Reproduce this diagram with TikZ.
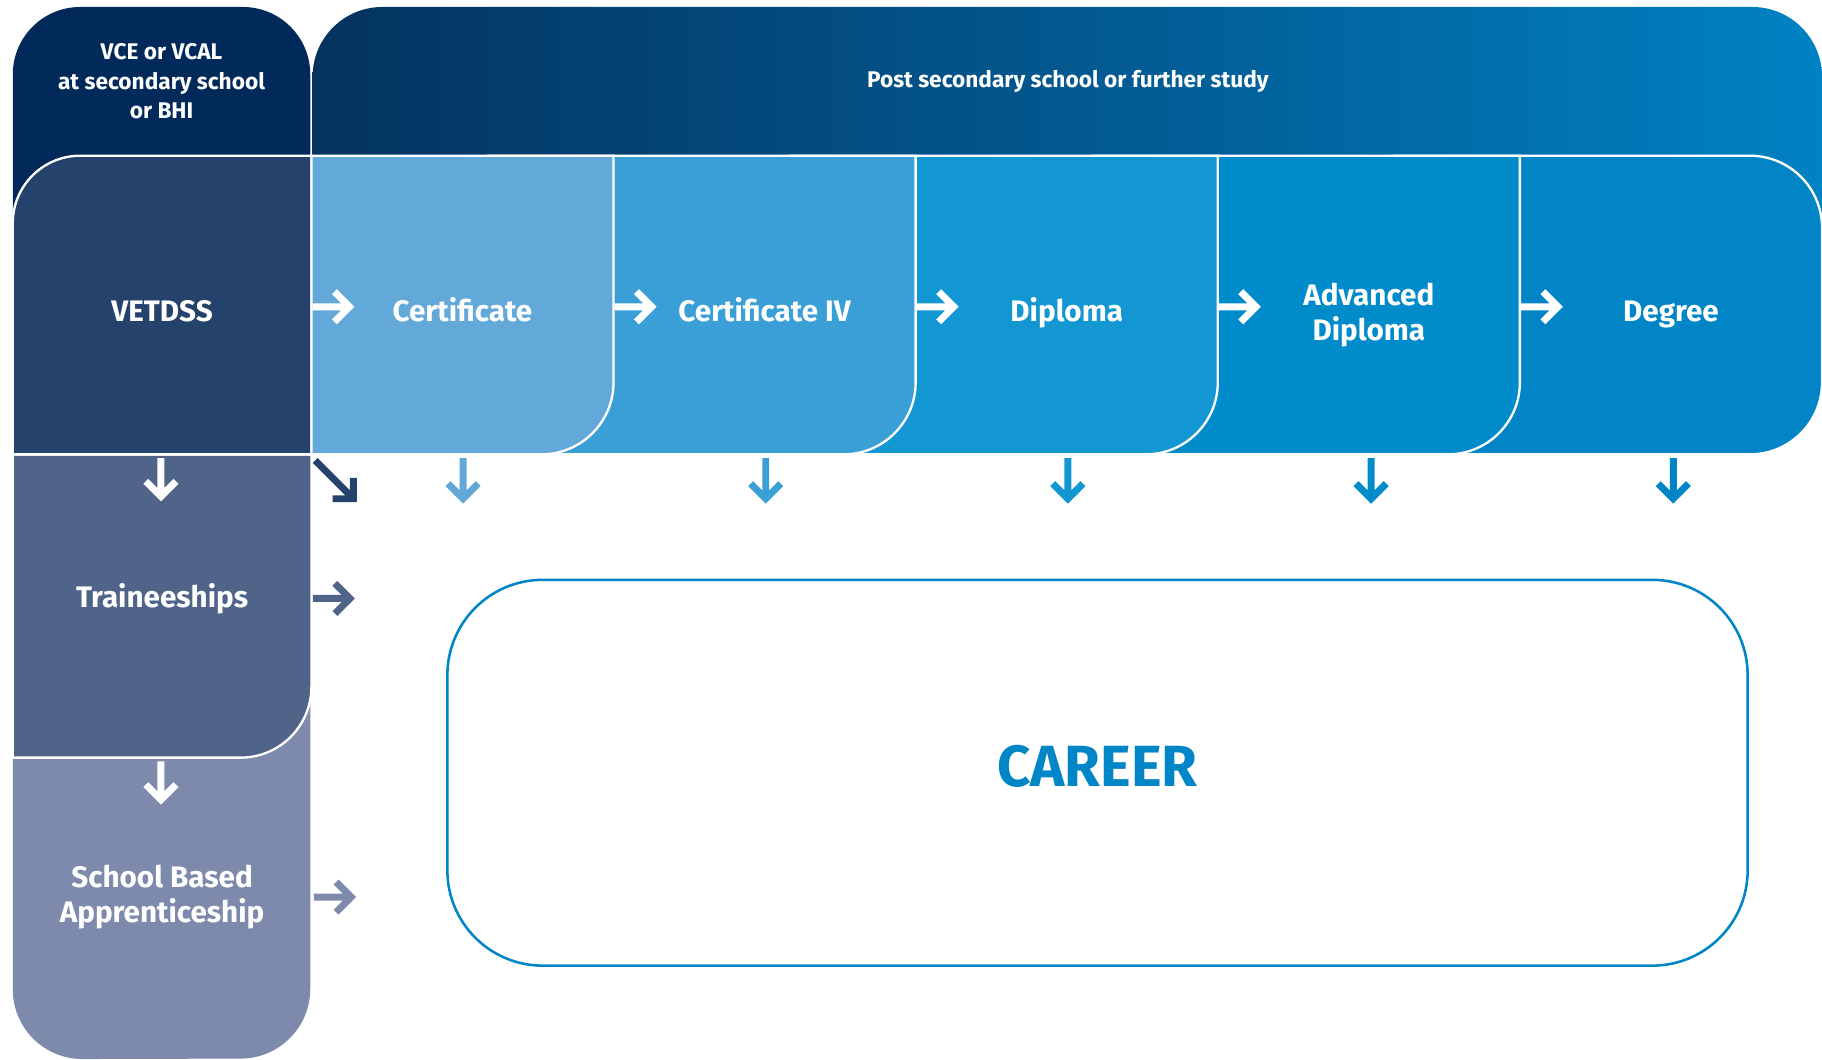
\documentclass[tikz,border=0pt]{standalone}
\usepackage{fontspec}
\setmainfont{Fira Sans}
\usetikzlibrary{calc}
\definecolor{vce}{HTML}{012A5B}
\definecolor{postL}{HTML}{04335F}
\definecolor{postM}{HTML}{02588F}
\definecolor{postR}{HTML}{0082C3}
\definecolor{vetc}{HTML}{24426B}
\definecolor{trainc}{HTML}{506389}
\definecolor{schoolc}{HTML}{7D8AAB}
\definecolor{certc}{HTML}{62A9D9}
\definecolor{certivc}{HTML}{3A9FD6}
\definecolor{dipc}{HTML}{1397D2}
\definecolor{advc}{HTML}{008BCA}
\definecolor{degc}{HTML}{0285C7}
\definecolor{careerc}{HTML}{0085C7}
\newcommand\rarr[2]{\draw[arr,#2] #1 -- ++(32,0) ++(-13,-13) -- ++(13,13) -- ++(-13,13);}
\newcommand\darr[3]{\draw[arr,#2] #1 -- ++(0,#3) ++(-13,-13) -- ++(13,13) -- ++(13,-13);}
\begin{document}
\begin{tikzpicture}[x=1pt,y=-1pt,
  wl/.style={draw=white, line width=2pt},
  boxn/.style={rectangle, inner sep=0pt, text=white, align=center,
    font=\bfseries\fontsize{25.5}{30}\selectfont},
  capc/.style={text height=17.6pt, text depth=0pt},
  hdr/.style={inner sep=0pt, text=white, align=center,
    font=\bfseries\fontsize{19.5}{25.5}\selectfont},
  arr/.style={line width=6pt, line cap=butt, line join=miter, miter limit=10},
]
\useasboundingbox (0,0) rectangle (1568,911.4);
% headers
\shade[left color=postL, right color=postR, middle color=postM]
  (269,300) -- (269,66) arc[start angle=180,end angle=270,radius=60]
  -- (1508,6) arc[start angle=270,end angle=360,radius=60] -- (1568,300) -- cycle;
\fill[vce] (11,300) -- (11,64) arc[start angle=180,end angle=270,radius=58]
  -- (209,6) arc[start angle=270,end angle=360,radius=58] -- (267,300) -- cycle;
% left column
\fill[schoolc] (11,560) -- (267,560) -- (267,851) arc[start angle=0,end angle=90,radius=60]
  -- (71,911.4) arc[start angle=90,end angle=180,radius=60] -- cycle;
\filldraw[fill=trainc, wl] (11,391) -- (268,391) -- (268,591)
  arc[start angle=0,end angle=90,radius=61] -- (11,652) -- cycle;
\filldraw[fill=vetc, wl] (11,391) -- (11,192) arc[start angle=180,end angle=270,radius=58]
  -- (268,134) -- (268,391) -- cycle;
% row of qualifications
\filldraw[fill=degc, wl] (1200,391) -- (1200,134) -- (1506,134)
  arc[start angle=270,end angle=360,radius=62] -- (1568,329)
  arc[start angle=0,end angle=90,radius=62] -- cycle;
\filldraw[fill=advc, wl] (940,391) -- (940,134) -- (1308,134) -- (1308,329)
  arc[start angle=0,end angle=90,radius=62] -- cycle;
\filldraw[fill=dipc, wl] (680,391) -- (680,134) -- (1048,134) -- (1048,329)
  arc[start angle=0,end angle=90,radius=62] -- cycle;
\filldraw[fill=certivc, wl] (420,391) -- (420,134) -- (788,134) -- (788,329)
  arc[start angle=0,end angle=90,radius=62] -- cycle;
\filldraw[fill=certc, wl] (268,391) -- (268,134) -- (528,134) -- (528,329)
  arc[start angle=0,end angle=90,radius=62] -- cycle;
% text nodes
\node[hdr] (vce) at (139,70) {VCE or VCAL\\at secondary school\\or BHI};
\node[hdr, text height=13.4pt, text depth=0pt] (post) at (919,69) {Post secondary school or further study};
\node[boxn, capc, minimum width=257, minimum height=246] (vetdss) at (139.5,268) {VETDSS};
\node[boxn, capc, minimum width=257, minimum height=276] (train) at (139.5,514) {Traineeships};
\node[boxn, minimum width=257, minimum height=278] (school) at (139.5,772) {School Based\\Apprenticeship};
\node[boxn, capc, minimum width=260, minimum height=246] (cert) at (398,268) {Certificate};
\node[boxn, capc, minimum width=260, minimum height=246] (certiv) at (658,268) {Certificate IV};
\node[boxn, capc, minimum width=260, minimum height=246] (dip) at (918,268) {Diploma};
\node[boxn, minimum width=260, minimum height=240] (adv) at (1178,271) {Advanced\\Diploma};
\node[boxn, capc, minimum width=260, minimum height=246] (deg) at (1438,268) {Degree};
\node[draw=careerc, line width=2.2pt, rounded corners=82pt, minimum width=1119,
  minimum height=332, inner sep=0pt, text=careerc, text depth=12pt,
  font=\bfseries\fontsize{50}{54}\selectfont] (career) at (944.5,665) {CAREER};
% arrows inside row
\rarr{($(cert.west)+(1,-4)$)}{white}
\rarr{($(certiv.west)+(1,-4)$)}{white}
\rarr{($(dip.west)+(1,-4)$)}{white}
\rarr{($(adv.west)+(1,-7)$)}{white}
\rarr{($(deg.west)+(1,-4)$)}{white}
% down arrows
\darr{($(vetdss.south)+(-1,3)$)}{white}{33}
\darr{($(train.south)+(-1,3)$)}{white}{33}
\darr{($(cert.south)+(0.5,3)$)}{certc}{35}
\darr{($(certiv.south)+(1,3)$)}{certivc}{35}
\darr{($(dip.south)+(1,3)$)}{dipc}{35}
\darr{($(adv.south)+(2,3)$)}{advc}{35}
\darr{($(deg.south)+(2,3)$)}{degc}{35}
% arrows towards career
\draw[arr,vetc] ($(vetdss.south east)+(3,5)$) -- ++(33,33) ++(-18,0) -- ++(18,0) -- ++(0,-18);
\rarr{($(train.east)+(1,1)$)}{trainc}
\rarr{($(school.east)+(2,0)$)}{schoolc}
\end{tikzpicture}
\end{document}
